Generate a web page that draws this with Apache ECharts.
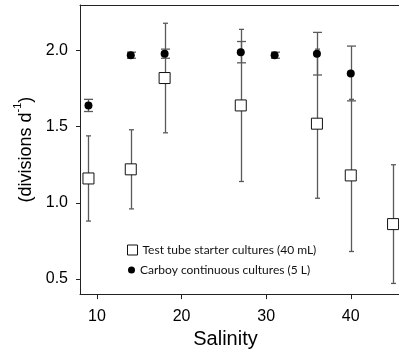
<!DOCTYPE html>
<html>
<head>
<meta charset="utf-8">
<script src="https://cdn.jsdelivr.net/npm/echarts@6/dist/echarts.min.js"></script>
<style>
  html, body { margin: 0; padding: 0; background: #fff; }
  #chart { width: 399px; height: 354px; }
</style>
</head>
<body>
<div id="chart"></div>
<script>
// Growth rate (divisions per day) versus salinity, mean ± SD
const tubeSalinity = [9, 14, 18, 27, 36, 40, 45];
const tubeRate     = [1.16, 1.22, 1.82, 1.64, 1.52, 1.18, 0.86];
const tubeSD       = [0.28, 0.26, 0.36, 0.50, 0.49, 0.50, 0.39];

const carboySalinity = [9, 14, 18, 27, 31, 36, 40];
const carboyRate     = [1.64, 1.97, 1.98, 1.99, 1.97, 1.98, 1.85];
const carboySD       = [0.04, 0.02, 0.03, 0.07, 0.02, 0.14, 0.18];

const xTicks = [10, 20, 30, 40];
const yTicks = [0.5, 1.0, 1.5, 2.0];

const tubeName = 'Test tube starter cultures (40 mL)';
const carboyName = 'Carboy continuous cultures (5 L)';

function toPoints(xs, ys) {
  return xs.map((x, i) => [x, ys[i]]);
}
function toRanges(xs, ys, sd) {
  return xs.map((x, i) => [x, ys[i] - sd[i], ys[i] + sd[i]]);
}

// Vertical whisker with caps, drawn in pixel space from the axis scales
function errorSeries(data, capHalf, color) {
  return {
    type: 'custom',
    silent: true,
    z: 1,
    data: data,
    encode: { x: 0, y: [1, 2] },
    renderItem: function (params, api) {
      const lo = api.coord([api.value(0), api.value(1)]);
      const hi = api.coord([api.value(0), api.value(2)]);
      const x = Math.round(lo[0]) + 0.5;
      const style = { stroke: color, lineWidth: 1.3 };
      return {
        type: 'group',
        children: [
          { type: 'line', shape: { x1: x, y1: lo[1], x2: x, y2: hi[1] }, style: style },
          { type: 'line', shape: { x1: x - capHalf, y1: hi[1], x2: x + capHalf, y2: hi[1] }, style: style },
          { type: 'line', shape: { x1: x - capHalf, y1: lo[1], x2: x + capHalf, y2: lo[1] }, style: style }
        ]
      };
    }
  };
}

const chart = echarts.init(document.getElementById('chart'), null, { renderer: 'canvas' });

const axisColor = '#222';
const labelFont = 'Liberation Sans, Arial, sans-serif';
const legendText = { fontFamily: 'Lato, sans-serif', fontSize: 12, color: '#111' };

chart.setOption({
  animation: false,
  backgroundColor: '#fff',
  grid: { left: 80, right: 0, top: 5, bottom: 59 },
  legend: [
    {
      data: [tubeName],
      orient: 'vertical',
      left: 127, top: 244,
      padding: 0,
      itemWidth: 10, itemHeight: 10,
      selectedMode: false,
      itemStyle: { color: '#fff', borderColor: '#111', borderWidth: 1 },
      textStyle: legendText
    },
    {
      data: [carboyName],
      orient: 'vertical',
      left: 128, top: 264,
      padding: 0,
      itemWidth: 7, itemHeight: 7,
      selectedMode: false,
      textStyle: legendText
    }
  ],
  xAxis: [
    {
      type: 'value',
      min: 8, max: 45.7,
      position: 'bottom',
      name: 'Salinity',
      nameLocation: 'middle',
      nameGap: 33,
      nameTextStyle: { fontFamily: labelFont, fontSize: 20, color: '#000', padding: [0, 28, 0, 0] },
      splitLine: { show: false },
      axisLine: { lineStyle: { color: axisColor, width: 1 } },
      axisTick: { show: true, length: 5, customValues: xTicks, lineStyle: { color: axisColor } },
      axisLabel: { customValues: xTicks, margin: 14, fontFamily: labelFont, fontSize: 16, color: '#000' }
    },
    {
      type: 'value',
      min: 8, max: 45.7,
      position: 'top',
      splitLine: { show: false },
      axisLine: { show: true, lineStyle: { color: axisColor, width: 1 } },
      axisTick: { show: false },
      axisLabel: { show: false }
    }
  ],
  yAxis: {
    type: 'value',
    min: 0.4, max: 2.3,
    name: '{m|(divisions d}{s|-1}{m|)}',
    nameLocation: 'middle',
    nameGap: 43,
    nameTextStyle: {
      rich: {
        m: { fontFamily: labelFont, fontSize: 18, color: '#000', lineHeight: 22, verticalAlign: 'bottom' },
        s: { fontFamily: labelFont, fontSize: 11, color: '#000', lineHeight: 22, verticalAlign: 'top' }
      }
    },
    splitLine: { show: false },
    axisLine: { show: true, lineStyle: { color: axisColor, width: 1 } },
    axisTick: { show: true, length: 4, customValues: yTicks, lineStyle: { color: axisColor } },
    axisLabel: {
      customValues: yTicks,
      margin: 12,
      fontFamily: labelFont, fontSize: 16, color: '#000',
      formatter: v => v.toFixed(1)
    }
  },
  series: [
    errorSeries(toRanges(tubeSalinity, tubeRate, tubeSD), 2.5, '#5a5a5a'),
    errorSeries(toRanges(carboySalinity, carboyRate, carboySD), 4.5, '#5a5a5a'),
    {
      name: tubeName,
      type: 'scatter',
      z: 3,
      symbol: 'rect',
      symbolSize: 11,
      itemStyle: { color: '#fff', borderColor: '#111', borderWidth: 1, opacity: 1 },
      data: toPoints(tubeSalinity, tubeRate)
    },
    {
      name: carboyName,
      type: 'scatter',
      z: 4,
      symbol: 'circle',
      symbolSize: 8,
      itemStyle: { color: '#000', opacity: 1 },
      data: toPoints(carboySalinity, carboyRate)
    }
  ]
});
</script>
</body>
</html>
